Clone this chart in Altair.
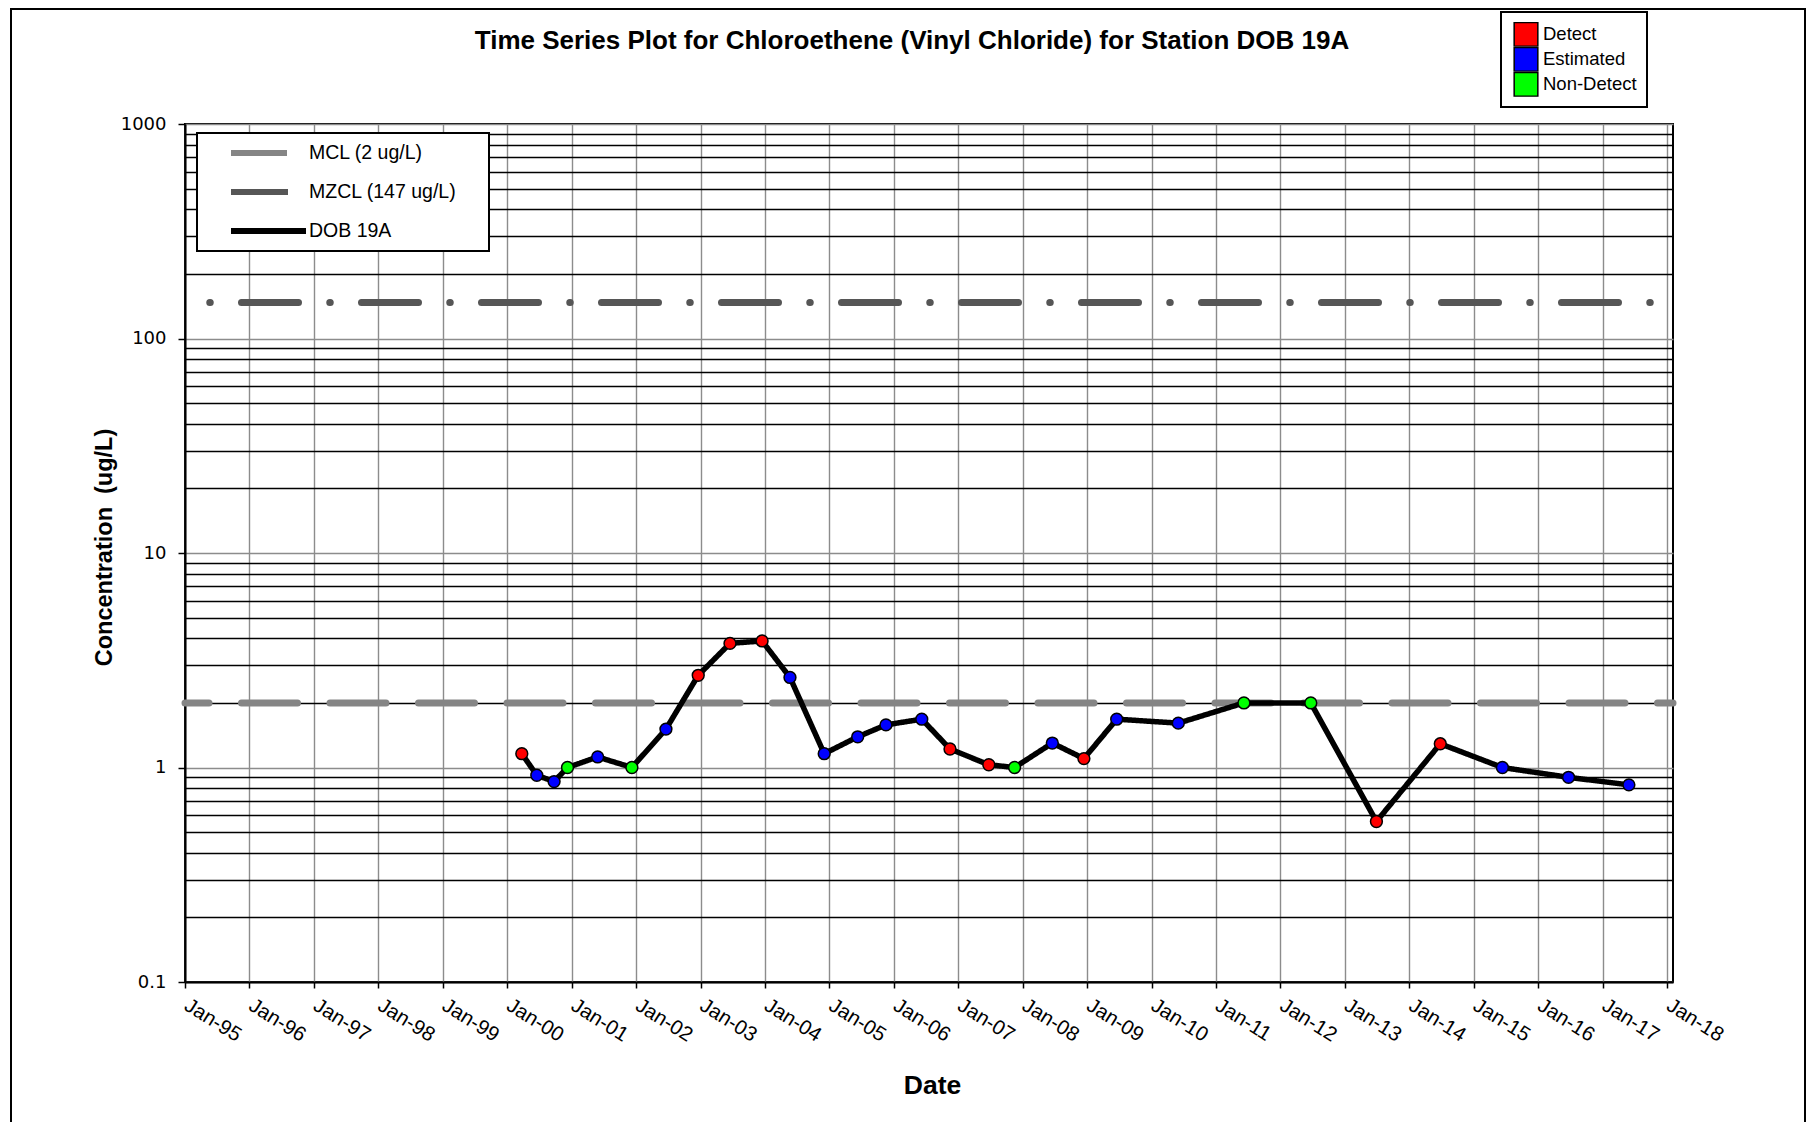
import altair as alt
import pandas as pd

# ---------------- data ----------------
sample_dates = ["2000-03-24", "2000-06-17", "2000-09-23", "2000-12-08", "2001-05-28", "2001-12-08",
                "2002-06-19", "2002-12-19", "2003-06-17", "2003-12-16", "2004-05-22", "2004-12-02",
                "2005-06-10", "2005-11-17", "2006-06-08", "2006-11-15", "2007-06-23", "2007-11-16",
                "2008-06-17", "2008-12-13", "2009-06-17", "2010-06-01", "2011-06-08", "2012-06-21",
                "2013-06-28", "2014-06-25", "2015-06-12", "2016-06-21", "2017-05-29"]
concentrations = [1.16, 0.92, 0.86, 1.0, 1.12, 1.0, 1.51, 2.69, 3.79, 3.89, 2.63, 1.16,
                  1.39, 1.58, 1.68, 1.22, 1.03, 1.0, 1.30, 1.10, 1.68, 1.61, 2.0, 2.0,
                  0.56, 1.29, 1.0, 0.90, 0.83]
qualifiers = ["Detect", "Estimated", "Estimated", "Non-Detect", "Estimated", "Non-Detect",
              "Estimated", "Detect", "Detect", "Detect", "Estimated", "Estimated",
              "Estimated", "Estimated", "Estimated", "Detect", "Detect", "Non-Detect",
              "Estimated", "Detect", "Estimated", "Estimated", "Non-Detect", "Non-Detect",
              "Detect", "Detect", "Estimated", "Estimated", "Estimated"]
station = "DOB 19A"

ref_names = ["MCL (2 ug/L)", "MZCL (147 ug/L)"]
ref_values = [2, 147]

series_order = ["MCL (2 ug/L)", "MZCL (147 ug/L)", "DOB 19A"]
series_colors = ["#858585", "#565656", "#000000"]
qualifier_order = ["Detect", "Estimated", "Non-Detect"]
qualifier_colors = ["#ff0000", "#0000ff", "#00ff00"]

year_ticks = list(range(1995, 2019))
y_decades = [0.1, 1, 10, 100, 1000]
y_minor = [0.2, 0.3, 0.4, 0.5, 0.6, 0.7, 0.8, 0.9,
           2, 3, 4, 5, 6, 7, 8, 9,
           20, 30, 40, 50, 60, 70, 80, 90,
           200, 300, 400, 500, 600, 700, 800, 900]

title_text = "Time Series Plot for Chloroethene (Vinyl Chloride) for Station DOB 19A"

# ---------------- tables ----------------
df = pd.DataFrame({
    "Date": [d + "T00:00:00" for d in sample_dates],
    "Concentration": concentrations,
    "Qualifier": qualifiers,
    "Series": station,
})
ref = pd.DataFrame({"Series": ref_names, "Concentration": ref_values})

# ---------------- layout ----------------
PW, PH = 1488, 858
FONT = "Liberation Sans"
GRID_GRAY = "#8c8c8c"

x_scale = alt.Scale(domain=[alt.DateTime(year=1995, month=1, date=1),
                            alt.DateTime(year=2018, month=2, date=3)], nice=False)
y_scale = alt.Scale(type="log", domain=[0.1, 1000], nice=False)

decade_test = "indexof([" + ",".join(str(v) for v in y_decades) + "], datum.value) >= 0"

x_axis = alt.Axis(
    values=[alt.DateTime(year=y, month=1, date=1) for y in year_ticks],
    format="%b-%y", labelAngle=32, labelAlign="left", labelBaseline="top",
    labelFlush=False, labelOverlap=False, labelFont=FONT, labelFontSize=20.5,
    labelColor="black", labelPadding=7, labelOffset=6, tickSize=6, tickColor="black",
    tickWidth=1.5, gridColor=GRID_GRAY, gridWidth=1.4, domainColor="black", domainWidth=2,
    title="Date", titleFont=FONT, titleFontSize=26.5, titleFontWeight="bold",
    titleColor="black", titleX=747, titleY=103, titleBaseline="middle", titleAlign="center",
)
y_axis = alt.Axis(
    values=sorted(y_decades + y_minor), format="~g",
    labelExpr=decade_test + " ? datum.label : ''",
    gridColor={"condition": {"test": decade_test, "value": GRID_GRAY}, "value": "black"},
    gridWidth=1.4,
    tickOpacity={"condition": {"test": decade_test, "value": 1}, "value": 0},
    tickSize=7, tickColor="black", tickWidth=1.5,
    labelFont="DejaVu Sans", labelFontSize=18, labelColor="black", labelPadding=12,
    domainColor="black", domainWidth=2,
    title="Concentration\u00a0 (ug/L)", titleFont=FONT, titleFontSize=23.5,
    titleFontWeight="bold", titleColor="black", titleX=-81, titleY=PH / 2 - 6,
    titleBaseline="middle", titleAlign="center",
)

series_legend = alt.Legend(
    title=None, orient="none", legendX=12, legendY=9, direction="vertical",
    symbolType="stroke", symbolSize=75 * 75, symbolStrokeWidth=6, clipHeight=20,
    symbolOffset=21, labelOffset=0, rowPadding=19, padding=10, labelLimit=400,
    labelFont=FONT, labelFontSize=19.5, labelColor="black",
    labelExpr="datum.label + '" + "\u00a0" * 4 + "\u200b'",
    strokeColor="black", fillColor="white",
)
qual_legend = alt.Legend(
    title=None, orient="none", legendX=1316, legendY=-112, direction="vertical",
    symbolType="square", symbolSize=560, symbolStrokeColor="black", symbolStrokeWidth=1.5,
    symbolOpacity=1, clipHeight=24.7, symbolOffset=2, labelOffset=4, rowPadding=0, padding=10,
    labelFont=FONT, labelFontSize=18.5, labelColor="black",
    strokeColor="black", fillColor="white",
)

stroke_enc = alt.Stroke("Series:N", scale=alt.Scale(domain=series_order, range=series_colors),
                        legend=series_legend)
dash_enc = alt.StrokeDash("Series:N",
                          scale=alt.Scale(domain=series_order,
                                          range=[[56, 32.5], [57, 31.25, 0.5, 31.25], [1, 0]]),
                          legend=series_legend)
x_enc = alt.X("Date:T", scale=x_scale, axis=x_axis)
y_enc = alt.Y("Concentration:Q", scale=y_scale, axis=y_axis)

frame = alt.Chart(alt.Data(values=[{"f": 1}])).mark_rect(
    fill="white", fillOpacity=0, stroke="black", strokeWidth=2
).encode(x=alt.value(-174), x2=alt.value(1620), y=alt.value(-115), y2=alt.value(1300))

mcl = alt.Chart(ref).transform_filter(alt.datum.Series == ref_names[0]).mark_rule(
    strokeWidth=7, strokeCap="round", strokeDashOffset=40.5
).encode(y=y_enc, stroke=stroke_enc, strokeDash=dash_enc)

mzcl = alt.Chart(ref).transform_filter(alt.datum.Series == ref_names[1]).mark_rule(
    strokeWidth=7, strokeCap="round", strokeDashOffset=65.5
).encode(y=y_enc, stroke=stroke_enc, strokeDash=dash_enc)

line = alt.Chart(df).mark_line(strokeWidth=5.5).encode(
    x=x_enc, y=y_enc, stroke=stroke_enc, strokeDash=dash_enc
)

points = alt.Chart(df).mark_point(
    shape="circle", filled=True, size=140, stroke="black", strokeWidth=1.5, opacity=1
).encode(
    x=x_enc, y=y_enc,
    fill=alt.Fill("Qualifier:N", scale=alt.Scale(domain=qualifier_order, range=qualifier_colors),
                  legend=qual_legend),
)

chart = alt.layer(frame, mcl, mzcl, line, points).properties(
    width=PW, height=PH,
    padding={"left": 177, "top": 116, "right": 133, "bottom": 140},
    autosize=alt.AutoSizeParams(type="none"),
    title=alt.TitleParams(text=title_text, font=FONT, fontSize=26, fontWeight="bold",
                          color="black", anchor="middle", frame="group", baseline="middle",
                          offset=-59, dx=-17),
).configure_view(stroke="black", strokeWidth=2).configure_legend(strokeWidth=2)

chart.save("out.html", embed_options={"renderer": "svg", "actions": False})
